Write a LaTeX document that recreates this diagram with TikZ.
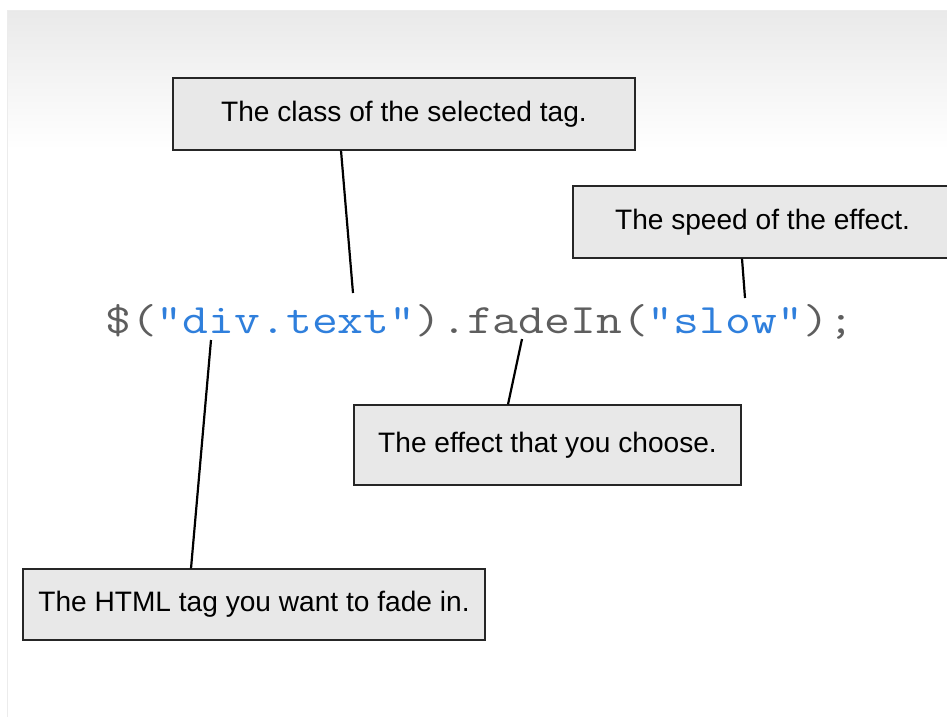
\documentclass[tikz,border=0pt]{standalone}
\usepackage{fontspec}
\setmainfont{Liberation Sans}
\newfontfamily\codefont[FakeStretch=1.2]{Latin Modern Mono}
\definecolor{codegray}{HTML}{5E5E5E}
\definecolor{codeblue}{HTML}{2F7FDC}

\begin{document}
\begin{tikzpicture}[x=0.02cm, y=-0.02cm,
  note/.style={draw=black!85, line width=0.7pt, fill=gray!18, inner sep=0pt,
    font=\fontsize{16}{19}\selectfont},
  code/.style={text=codegray, inner sep=0pt, font=\codefont\fontsize{23.8}{28}\selectfont},
  pointer/.style={line width=1.25pt}]
\useasboundingbox (0,0) rectangle (947,717);
\fill [white] (0,0) rectangle (947,717);
\shade [top color=gray!17, bottom color=white] (7,10) rectangle (947,150);
\draw [gray!15] (7,717) -- (7,10) -- (947,10);

\node [note, minimum width=9.24cm, minimum height=1.44cm] (classbox) at (404,114) {The class of the selected tag.};
\node [note, minimum width=7.58cm, minimum height=1.44cm] (speedbox) at (762.5,222) {The speed of the effect.};
\node [note, minimum width=7.74cm, minimum height=1.6cm] (effectbox) at (547.5,445) {The effect that you choose.};
\node [note, minimum width=9.24cm, minimum height=1.42cm] (tagbox) at (254,604.5) {The HTML tag you want to fade in.};

\node [code, anchor=base] (code) at (480,333) {\$(\textcolor{codeblue}{"div.text"}).fadeIn(\textcolor{codeblue}{"slow"});};

\coordinate (classpt) at (353,293);
\coordinate (speedpt) at (745,298);
\coordinate (effectpt) at (522,339);
\coordinate (tagpt) at (211,340);

\draw [pointer] ([xshift=-1.26cm]classbox.south) -- (classpt);
\draw [pointer] ([xshift=-0.41cm]speedbox.south) -- (speedpt);
\draw [pointer] ([xshift=-0.79cm]effectbox.north) -- (effectpt);
\draw [pointer] ([xshift=-1.26cm]tagbox.north) -- (tagpt);
\end{tikzpicture}
\end{document}
